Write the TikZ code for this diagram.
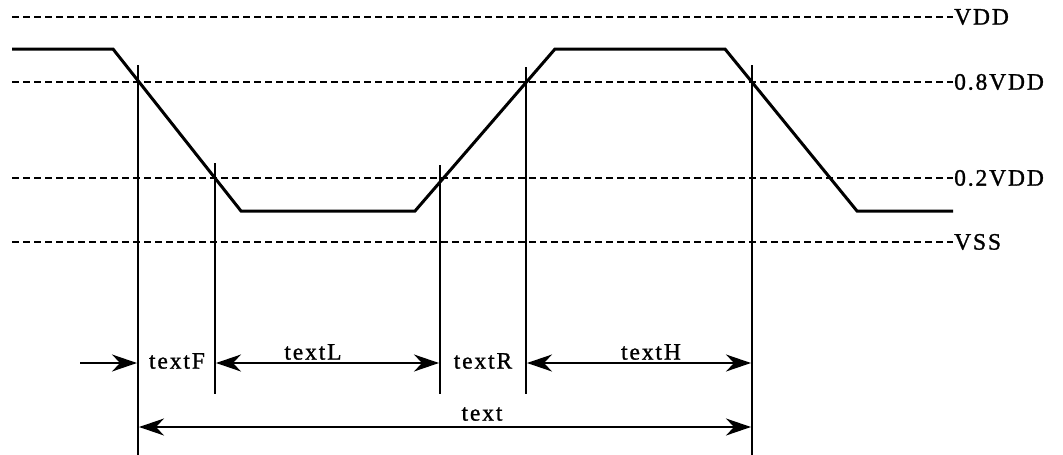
\documentclass[tikz,border=0pt]{standalone}
\usepackage{fontspec}
\setmainfont{Liberation Serif}
\newfontfamily\lblfont[LetterSpace=8,FakeBold=1.2]{Liberation Serif}
\usetikzlibrary{arrows.meta}
\tikzset{
  lvl/.style={line width=2pt,dash pattern=on 7pt off 4pt},
  wave/.style={line width=3pt,line join=miter},
  tick/.style={line width=1.8pt},
  dim/.style={line width=1.6pt,arrows={-Stealth[length=25pt,width=17pt,inset=8pt]}},
  dimb/.style={line width=1.6pt,arrows={Stealth[length=25pt,width=17pt,inset=8pt]-Stealth[length=25pt,width=17pt,inset=8pt]}},
  lbl/.style={inner sep=1pt,font=\lblfont\fontsize{23.5}{26}\selectfont}}
\begin{document}
\begin{tikzpicture}[x=1pt,y=-1pt]
\useasboundingbox (0,0) rectangle (1063,455);
% level lines
\coordinate (vddL) at (12,17);  \coordinate (vddR) at (953,17);
\coordinate (hiL) at (12,82);   \coordinate (hiR) at (953,82);
\coordinate (loL) at (12,178);  \coordinate (loR) at (953,178);
\coordinate (vssL) at (12,242); \coordinate (vssR) at (953,242);
\draw[lvl] (vddL) -- (vddR);
\draw[lvl] (hiL) -- (hiR);
\draw[lvl] (loL) -- (loR);
\draw[lvl] (vssL) -- (vssR);
\node[lbl,anchor=west] (lvdd) at (vddR) {VDD};
\node[lbl,anchor=west] (lhi) at (hiR) {0.8VDD};
\node[lbl,anchor=west] (llo) at (loR) {0.2VDD};
\node[lbl,anchor=west] (lvss) at (vssR) {VSS};
% waveform
\coordinate (w0) at (12,49);
\coordinate (w1) at (113,49);
\coordinate (w2) at (241,211);
\coordinate (w3) at (415,211);
\coordinate (w4) at (555,49);
\coordinate (w5) at (725,49);
\coordinate (w6) at (857,211);
\coordinate (w7) at (953,211);
\draw[wave] (w0) -- (w1) -- (w2) -- (w3) -- (w4) -- (w5) -- (w6) -- (w7);
% vertical ticks
\coordinate (t1a) at (138,65);  \coordinate (t1b) at (138,455);
\coordinate (t2a) at (215,163); \coordinate (t2b) at (215,394);
\coordinate (t3a) at (440,165); \coordinate (t3b) at (440,394);
\coordinate (t4a) at (526,67);  \coordinate (t4b) at (526,394);
\coordinate (t5a) at (752,65);  \coordinate (t5b) at (752,455);
\draw[tick] (t1a) -- (t1b);
\draw[tick] (t2a) -- (t2b);
\draw[tick] (t3a) -- (t3b);
\draw[tick] (t4a) -- (t4b);
\draw[tick] (t5a) -- (t5b);
% row of dimensions
\coordinate (r0) at (80,363);
\coordinate (r1) at (137,363);
\coordinate (r2) at (216,363);
\coordinate (r3) at (439,363);
\coordinate (r4) at (527,363);
\coordinate (r5) at (751,363);
\draw[dim] (r0) -- (r1);
\draw[dimb] (r2) -- (r3);
\draw[dimb] (r4) -- (r5);
\node[lbl] (tF) at (177,361) {textF};
\node[lbl] (tR) at (483,361) {textR};
\node[lbl,anchor=south] (tL) at (313,361) {textL};
\node[lbl,anchor=south] (tH) at (651,361) {textH};
% total
\coordinate (s1) at (139,427);
\coordinate (s2) at (751,427);
\draw[dimb] (s1) -- (s2);
\node[lbl,anchor=south] (tT) at (482,422) {text};
\end{tikzpicture}
\end{document}
